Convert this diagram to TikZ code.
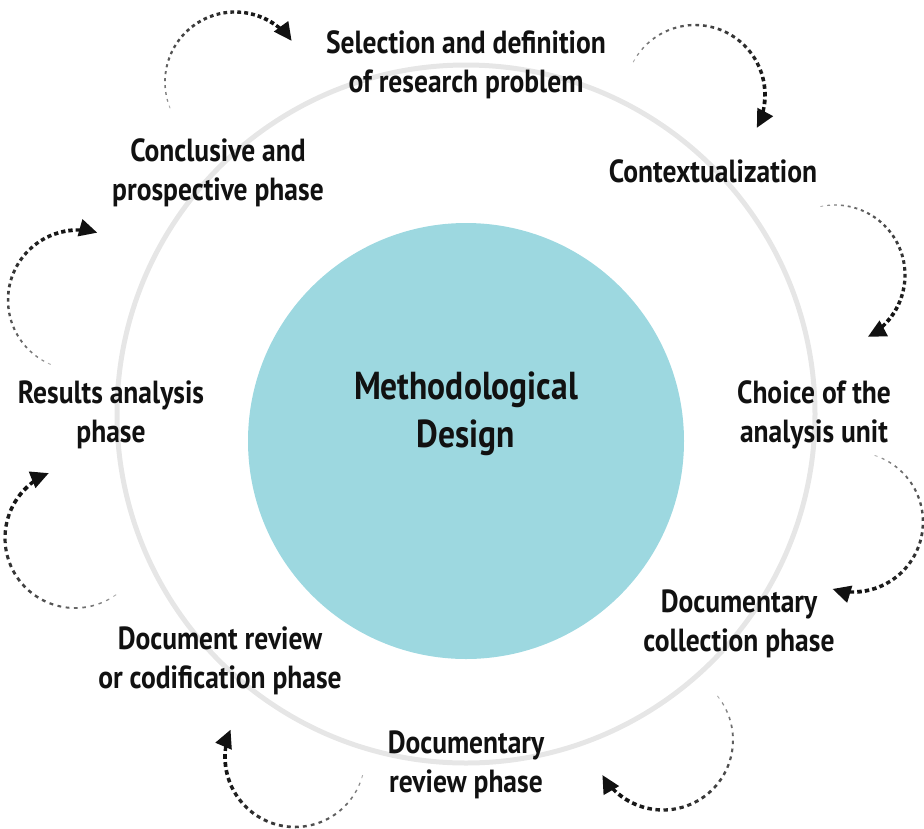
\documentclass[tikz,border=0pt]{standalone}
\usepackage{fontspec}
\setmainfont{PT Sans}[FakeStretch=0.86]
\usepackage{tikz}
\usetikzlibrary{arrows.meta}
\definecolor{core}{RGB}{157,216,224}
\definecolor{ringgray}{RGB}{230,230,230}
\definecolor{ink}{RGB}{17,17,17}
\tikzset{
  phase/.style={align=center, font=\fontsize{32}{39}\selectfont\bfseries, text=ink, inner sep=0pt},
  hub/.style={circle, fill=core, minimum size=436pt, inner sep=0pt},
  hublbl/.style={align=center, font=\fontsize{39}{48}\selectfont\bfseries, text=ink, inner sep=0pt},
  orbit/.style={circle, draw=ringgray, line width=5pt, minimum size=698pt, inner sep=0pt},
  tip/.style={draw=ink, line width=3.4pt, -{Triangle[length=18pt,width=17pt]}}
}

\begin{document}
\begin{tikzpicture}[x=1pt, y=-1pt]
    \useasboundingbox (0,0) rectangle (924,828);
    \node[orbit] (ring) at (466,414) {};
    \node[hub] (core) at (466,441) {};
    \node[hublbl] (design) at (466,414) {Methodological\\Design};
    % phases around the ring
    \foreach \nm/\x/\y/\txt in {sel/466/65/{Selection and definition\\of research problem},
        ctx/713/171/{Contextualization}, unit/814/415/{Choice of the\\analysis unit},
        coll/739/624/{Documentary\\collection phase}, rev/466/765/{Documentary\\review phase},
        cod/220/661/{Document review\\or codification phase}, res/111/415/{Results analysis\\phase},
        conc/218/173/{Conclusive and\\prospective phase}}{
      \node[phase] (\nm) at (\x,\y) {\txt};
    }
    % dashed loop that fades in towards its arrow tip
    \def\flow#1#2#3#4{
      \coordinate (c) at (#1,#2);
      \foreach \i in {0,...,25}{
        \pgfmathsetmacro\fr{\i/25}
        \pgfmathsetmacro\angA{#3+(#4-#3-18)*\i/26}
        \pgfmathsetmacro\angB{\angA+(#4-#3-18)/26*(0.4+0.2*\fr)}
        \pgfmathsetmacro\lw{0.9+2.9*\fr^0.7}
        \pgfmathsetmacro\dk{35+65*\fr^0.5}
        \draw[line width=\lw pt, ink!\dk] (c) ++(\angA:70) arc[start angle=\angA, end angle=\angB, radius=70];
      }
      \draw[tip] (c) ++(#4-18:70) arc[start angle=#4-18, end angle=#4, radius=70];
    }
    \foreach \cx/\cy/\sa/\ea in {235/82/158/324, 695/95/208/388, 835/275/258/422,
        853/522/288/467, 663/740/321/510, 295/757/15/203, 75/538/54/248, 78/300/113/286}{
      \flow{\cx}{\cy}{\sa}{\ea}
    }
\end{tikzpicture}
\end{document}
